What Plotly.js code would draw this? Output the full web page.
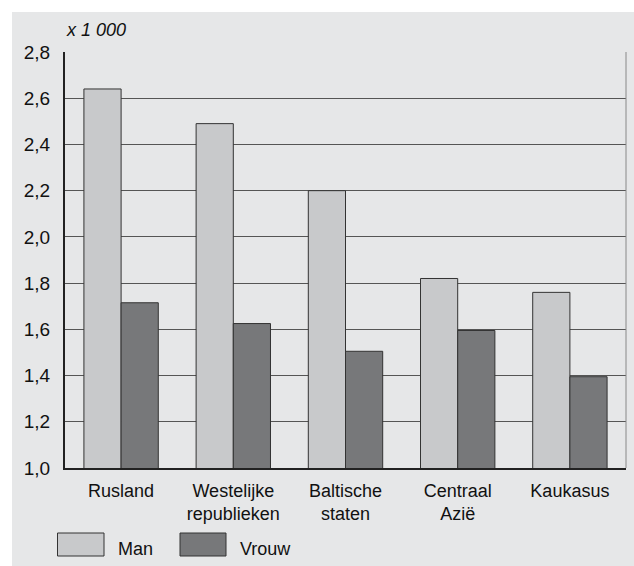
<!DOCTYPE html>
<html>
<head>
<meta charset="utf-8">
<script src="https://cdn.plot.ly/plotly-3.0.1.min.js"></script>
<style>html,body{margin:0;padding:0;background:#fff;}#chart{width:634px;height:566px;}</style>
</head>
<body>
<div id="chart"></div>
<script>
const categories = ["Rusland", "Westelijke<br>republieken", "Baltische<br>staten", "Centraal<br>Azië", "Kaukasus"];
const seriesNames = ["Man", "Vrouw"];
const manValues = [2.64, 2.49, 2.20, 1.82, 1.76];
const vrouwValues = [1.715, 1.625, 1.505, 1.595, 1.395];
const yTickValues = [1.0, 1.2, 1.4, 1.6, 1.8, 2.0, 2.2, 2.4, 2.6, 2.8];
const unitLabel = "x 1 000";

const colors = ["#c8c9cb", "#77787a"];
const FONT = "Liberation Sans, Arial, Helvetica, sans-serif";
const TXT = "#111111";
const traces = [manValues, vrouwValues].map((vals, i) => ({
  type: "bar",
  x: categories,
  y: vals,
  name: seriesNames[i],
  marker: {color: colors[i], line: {color: "#333333", width: 1}},
  showlegend: false,
  hoverinfo: "skip"
}));

function px2x(px) { return (px - 65) / 561; }
function px2y(py) { return (468 - py) / 416; }

const shapes = [
  {type: "rect", xref: "paper", yref: "paper", x0: px2x(12), x1: px2x(640), y0: px2y(570), y1: px2y(12),
   fillcolor: "#e6e7e8", line: {width: 0}, layer: "below"},
  {type: "line", xref: "paper", yref: "paper", x0: 1, x1: 1, y0: 0, y1: 1, line: {color: "#888888", width: 1}},
  {type: "rect", xref: "paper", yref: "paper", x0: px2x(57.5), x1: px2x(104), y0: px2y(556), y1: px2y(533),
   fillcolor: colors[0], line: {color: "#333333", width: 1}},
  {type: "rect", xref: "paper", yref: "paper", x0: px2x(180), x1: px2x(226), y0: px2y(556), y1: px2y(533),
   fillcolor: colors[1], line: {color: "#333333", width: 1}}
];

const annotations = [
  {text: "<i>" + unitLabel + "</i>", xref: "paper", yref: "paper", x: px2x(64), y: px2y(30), xanchor: "left", yanchor: "middle",
   showarrow: false, font: {family: FONT, size: 18, color: TXT}},
  {text: seriesNames[0], xref: "paper", yref: "paper", x: px2x(116), y: px2y(549), xanchor: "left", yanchor: "middle",
   showarrow: false, font: {family: FONT, size: 18, color: TXT}},
  {text: seriesNames[1], xref: "paper", yref: "paper", x: px2x(238), y: px2y(549), xanchor: "left", yanchor: "middle",
   showarrow: false, font: {family: FONT, size: 18, color: TXT}}
];

const layout = {
  width: 634, height: 566,
  margin: {l: 65, r: 8, t: 52, b: 98, pad: 0},
  paper_bgcolor: "#ffffff",
  plot_bgcolor: "#ffffff",
  separators: ",.",
  barmode: "group",
  bargap: 0.337,
  bargroupgap: 0,
  font: {family: FONT, size: 18, color: TXT},
  xaxis: {
    showgrid: false, showline: true, linecolor: "#222", linewidth: 2, ticks: "",
    tickfont: {family: FONT, size: 18, color: TXT},
    ticklabelstandoff: 5, fixedrange: true
  },
  yaxis: {
    range: [1.0, 2.8], tickvals: yTickValues, tickformat: ".1f",
    showgrid: true, gridcolor: "#555555", gridwidth: 1,
    showline: true, linecolor: "#222", linewidth: 2, ticks: "", zeroline: false,
    tickfont: {family: FONT, size: 19, color: TXT},
    ticklabelstandoff: 9, fixedrange: true
  },
  shapes: shapes,
  annotations: annotations
};

Plotly.newPlot("chart", traces, layout, {displayModeBar: false, staticPlot: true});
</script>
</body>
</html>
